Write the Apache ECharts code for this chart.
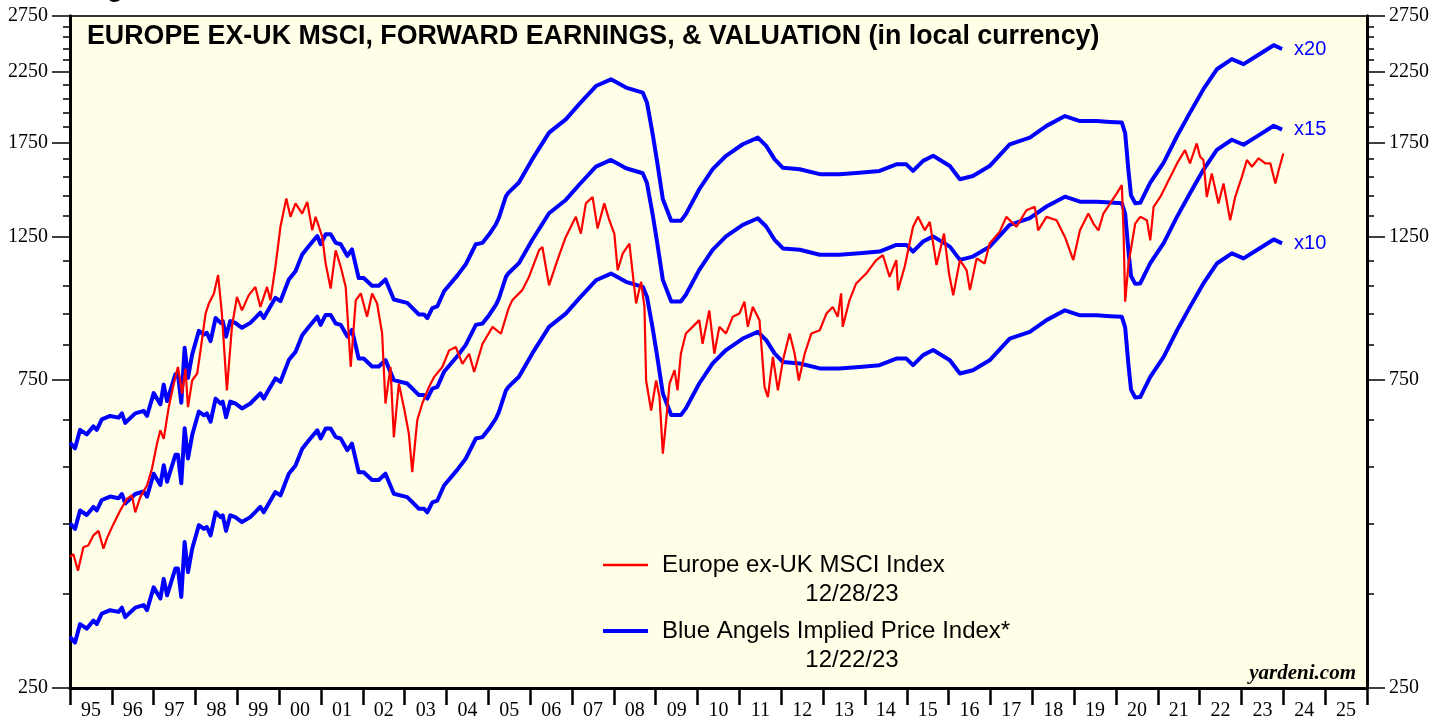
<!DOCTYPE html>
<html>
<head>
<meta charset="utf-8">
<title>Europe ex-UK MSCI, Forward Earnings, & Valuation</title>
<script src="https://cdn.jsdelivr.net/npm/echarts@6.0.0/dist/echarts.min.js"></script>
<style>
  html, body { margin: 0; padding: 0; background: #fff; }
  #chart { width: 1448px; height: 717px; }
</style>
</head>
<body>
<div id="chart"></div>
<script>
// forward earnings per share (value / 10)
const earnDates = [
  1995.00, 1995.12, 1995.24, 1995.40, 1995.56, 1995.64, 1995.76, 1995.96,
  1996.16, 1996.24, 1996.32, 1996.56, 1996.76, 1996.84, 1997.00, 1997.16,
  1997.24, 1997.32, 1997.52, 1997.58, 1997.66, 1997.74, 1997.82, 1997.92,
  1998.08, 1998.20, 1998.27, 1998.36, 1998.48, 1998.60, 1998.65, 1998.73,
  1998.83, 1998.95, 1999.11, 1999.31, 1999.55, 1999.63, 1999.75, 1999.91,
  2000.03, 2000.23, 2000.39, 2000.55, 2000.71, 2000.91, 2000.99, 2001.11,
  2001.23, 2001.35, 2001.47, 2001.63, 2001.74, 2001.90, 2002.02, 2002.22,
  2002.38, 2002.54, 2002.74, 2003.06, 2003.34, 2003.46, 2003.54, 2003.66,
  2003.78, 2003.94, 2004.26, 2004.46, 2004.70, 2004.86, 2005.02, 2005.18,
  2005.25, 2005.42, 2005.48, 2005.73, 2006.05, 2006.45, 2006.85, 2007.17,
  2007.57, 2007.93, 2008.29, 2008.69, 2008.79, 2008.93, 2009.03, 2009.17,
  2009.37, 2009.60, 2009.72, 2010.04, 2010.36, 2010.68, 2011.08, 2011.44,
  2011.64, 2011.84, 2012.04, 2012.44, 2012.92, 2013.39, 2013.87, 2014.35,
  2014.75, 2014.99, 2015.15, 2015.39, 2015.63, 2016.03, 2016.27, 2016.58,
  2016.98, 2017.46, 2017.94, 2018.34, 2018.78, 2019.14, 2019.54, 2019.86,
  2020.14, 2020.22, 2020.30, 2020.36, 2020.46, 2020.58, 2020.82, 2021.14,
  2021.46, 2021.77, 2022.09, 2022.41, 2022.77, 2023.05, 2023.37, 2023.77,
  2023.97
];
const fwdEarnings = [
  30.0, 29.4, 31.4, 30.9, 31.8, 31.4, 32.6, 33.0,
  32.8, 33.3, 32.2, 33.3, 33.6, 33.0, 35.8, 34.4,
  36.9, 34.8, 38.3, 38.3, 34.6, 42.1, 37.8, 41.1,
  44.7, 44.1, 44.4, 43.1, 46.8, 46.0, 46.3, 43.8,
  46.3, 46.0, 45.2, 46.0, 47.7, 46.8, 48.3, 50.3,
  49.7, 53.7, 55.3, 58.7, 60.5, 62.7, 60.9, 63.1,
  63.1, 61.2, 60.9, 58.4, 59.8, 54.0, 54.0, 52.5,
  52.5, 53.7, 50.0, 49.4, 47.4, 47.4, 46.8, 48.5,
  48.8, 51.5, 54.5, 56.7, 60.9, 61.2, 63.1, 65.4,
  66.9, 72.3, 73.2, 75.9, 82.5, 90.7, 95.1, 100.4,
  107.1, 109.7, 106.5, 104.6, 101.0, 90.0, 82.0, 71.5,
  66.2, 66.2, 67.8, 74.1, 79.6, 83.5, 87.0, 89.1,
  86.5, 82.5, 80.0, 79.6, 78.2, 78.2, 78.6, 79.1,
  81.0, 81.0, 79.1, 82.0, 83.5, 80.5, 76.8, 77.7,
  80.5, 87.0, 89.1, 92.9, 96.2, 94.5, 94.5, 94.2,
  94.0, 90.5, 79.0, 72.5, 70.5, 70.6, 75.9, 81.5,
  89.6, 97.4, 105.9, 113.7, 117.9, 115.8, 119.3, 123.9,
  122.2
];
const peMultiples = [20, 15, 10];

// Europe ex-UK MSCI price index
const msciDates = [
  1995.00, 1995.08, 1995.19, 1995.32, 1995.44, 1995.56, 1995.68, 1995.80, 1995.88,
  1996.04, 1996.20, 1996.36, 1996.48, 1996.56, 1996.68, 1996.84, 1996.96,
  1997.08, 1997.16, 1997.24, 1997.36, 1997.48, 1997.58, 1997.68, 1997.76, 1997.82, 1997.92,
  1998.04, 1998.12, 1998.24, 1998.32, 1998.44, 1998.54, 1998.63, 1998.75, 1998.87, 1998.99,
  1999.11, 1999.27, 1999.43, 1999.55, 1999.71, 1999.79, 1999.91,
  2000.03, 2000.17, 2000.27, 2000.39, 2000.55, 2000.67, 2000.79, 2000.87,
  2001.03, 2001.11, 2001.23, 2001.35, 2001.47, 2001.59, 2001.71, 2001.83, 2001.95,
  2002.10, 2002.22, 2002.34, 2002.46, 2002.54, 2002.66, 2002.74, 2002.86, 2002.98,
  2003.10, 2003.18, 2003.30, 2003.42, 2003.58, 2003.70, 2003.90,
  2004.06, 2004.22, 2004.38, 2004.54, 2004.66, 2004.86,
  2005.10, 2005.30, 2005.48, 2005.57, 2005.81, 2005.97,
  2006.21, 2006.29, 2006.45, 2006.65, 2006.85,
  2007.09, 2007.21, 2007.33, 2007.49, 2007.61, 2007.77, 2007.89,
  2008.01, 2008.09, 2008.21, 2008.37, 2008.45, 2008.53, 2008.65, 2008.73, 2008.77, 2008.89,
  2009.01, 2009.09, 2009.17, 2009.25, 2009.33, 2009.45, 2009.52, 2009.60, 2009.72, 2009.88,
  2010.04, 2010.12, 2010.28, 2010.40, 2010.52, 2010.68, 2010.84,
  2011.00, 2011.12, 2011.20, 2011.32, 2011.48, 2011.60, 2011.68, 2011.80, 2011.92,
  2012.04, 2012.20, 2012.32, 2012.42, 2012.56, 2012.72, 2012.92,
  2013.08, 2013.23, 2013.35, 2013.43, 2013.47, 2013.63, 2013.79,
  2014.03, 2014.27, 2014.43, 2014.59, 2014.75, 2014.79, 2014.95,
  2015.15, 2015.27, 2015.43, 2015.55, 2015.71, 2015.89,
  2016.01, 2016.11, 2016.27, 2016.43, 2016.51, 2016.67, 2016.86, 2016.98,
  2017.22, 2017.38, 2017.62, 2017.86,
  2018.06, 2018.14, 2018.34, 2018.58, 2018.78, 2018.98,
  2019.14, 2019.34, 2019.46, 2019.58, 2019.70, 2019.86,
  2020.02, 2020.14, 2020.18, 2020.22, 2020.30, 2020.38, 2020.46, 2020.58, 2020.74, 2020.82, 2020.90,
  2021.06, 2021.22, 2021.46, 2021.65, 2021.77, 2021.93,
  2022.01, 2022.09, 2022.17, 2022.29, 2022.45, 2022.57, 2022.73, 2022.85,
  2023.01, 2023.13, 2023.25, 2023.41, 2023.57, 2023.69, 2023.81, 2023.89, 2024.00
];
const msciIndex = [
  399, 403, 380, 413, 416, 431, 438, 411, 426,
  449, 471, 491, 497, 468, 494, 515, 547,
  598, 627, 608, 681, 741, 786, 715, 781, 681, 749,
  768, 834, 951, 986, 1022, 1091, 951, 723, 907, 1009,
  962, 1015, 1046, 974, 1046, 997, 1124,
  1296, 1434, 1343, 1409, 1359, 1417, 1280, 1343,
  1250, 1137, 1040, 1192, 1124, 1046, 786, 997, 1022,
  940, 1022, 986, 886, 690, 786, 612, 741, 681,
  619, 540, 650, 690, 732, 758, 786,
  834, 844, 795, 824, 772, 854,
  907, 885, 968, 997, 1034, 1084,
  1192, 1206, 1052, 1151, 1250,
  1343, 1265, 1409, 1442, 1288, 1409, 1327,
  1265, 1110, 1178, 1221, 1097, 986, 1065, 974, 749, 673,
  749, 706, 577, 650, 741, 777, 723, 824, 886, 907,
  929, 854, 962, 824, 907, 886, 940,
  951, 992, 907, 974, 929, 732, 706, 815, 723,
  805, 886, 824, 749, 824, 886, 896,
  951, 974, 940, 1022, 907, 997, 1059,
  1097, 1151, 1171, 1084, 1151, 1034, 1124,
  1296, 1343, 1280, 1319, 1131, 1265,
  1097, 1015, 1151, 1110, 1034, 1158, 1137, 1221,
  1273, 1343, 1296, 1375,
  1392, 1280, 1343, 1327, 1250, 1151,
  1280, 1359, 1311, 1280, 1359, 1409,
  1460, 1504, 1280, 992, 1137, 1221, 1311, 1343, 1327, 1235, 1392,
  1442, 1513, 1625, 1704, 1625, 1745,
  1664, 1645, 1442, 1568, 1409, 1513, 1327, 1442,
  1549, 1645, 1606, 1655, 1625, 1625, 1513, 1587, 1684
];

const yearLabels = ['95', '96', '97', '98', '99', '00', '01', '02', '03', '04', '05',
  '06', '07', '08', '09', '10', '11', '12', '13', '14', '15', '16', '17', '18', '19',
  '20', '21', '22', '23', '24', '25'];
const yMajorTicks = [250, 750, 1250, 1750, 2250, 2750];
const yMinorTicks = [250, 350, 450, 550, 650, 750, 850, 950, 1050, 1150, 1250, 1350,
  1450, 1550, 1650, 1750, 1850, 1950, 2050, 2150, 2250, 2350, 2450, 2550, 2650, 2750];

const serif = '"Liberation Serif", "Times New Roman", serif';
const sans = '"Liberation Sans", Arial, sans-serif';

// one log axis per side for the long ticks + labels, one for the short ticks
function yAxisFor(position, major) {
  return {
    type: 'log',
    logBase: 10,
    position: position,
    min: 250,
    max: 2750,
    splitLine: { show: false },
    axisLine: { show: true, lineStyle: { color: '#000', width: 3 } },
    axisTick: {
      show: true,
      length: major ? 18 : 7,
      customValues: major ? yMajorTicks : yMinorTicks,
      lineStyle: { color: '#000', width: 1.5 }
    },
    axisLabel: major
      ? {
          show: true,
          customValues: yMajorTicks,
          margin: 22,
          color: '#000',
          fontFamily: serif,
          fontSize: 20,
          formatter: (v) => String(Math.round(v))
        }
      : { show: false }
  };
}

const impliedSeries = peMultiples.map((pe) => ({
  name: 'x' + pe,
  type: 'line',
  xAxisIndex: 0,
  yAxisIndex: 0,
  showSymbol: false,
  silent: true,
  lineStyle: { color: '#0000ff', width: 4, join: 'round' },
  data: earnDates.map((d, i) => [d, fwdEarnings[i] * pe]),
  endLabel: {
    show: true,
    formatter: 'x' + pe,
    color: '#0000ff',
    fontFamily: sans,
    fontSize: 20,
    distance: 12
  },
  z: 2
}));

const chart = echarts.init(document.getElementById('chart'));
const option = {
  animation: false,
  backgroundColor: '#ffffff',
  grid: {
    left: 70,
    right: 81,
    top: 16,
    bottom: 29,
    outerBoundsMode: 'none',
    show: true,
    backgroundColor: '#fffee6',
    borderColor: '#333',
    borderWidth: 2
  },
  xAxis: [
    {
      type: 'value',
      position: 'bottom',
      min: 1995,
      max: 2026,
      show: false
    },
    {
      type: 'category',
      position: 'bottom',
      data: yearLabels,
      boundaryGap: true,
      axisLine: { show: true, lineStyle: { color: '#000', width: 3 } },
      axisTick: { show: true, length: 17, lineStyle: { color: '#000', width: 2.5 } },
      axisLabel: { interval: 0, margin: 13, color: '#000', fontFamily: serif, fontSize: 20 },
      splitLine: { show: false }
    }
  ],
  yAxis: [
    yAxisFor('left', false),
    yAxisFor('left', true),
    yAxisFor('right', false),
    yAxisFor('right', true)
  ],
  series: [
    ...impliedSeries,
    {
      name: 'Europe ex-UK MSCI Index',
      type: 'line',
      xAxisIndex: 0,
      yAxisIndex: 0,
      showSymbol: false,
      silent: true,
      lineStyle: { color: '#ff0000', width: 2.2 },
      data: msciDates.map((d, i) => [d, msciIndex[i]]),
      z: 3
    }
  ],
  graphic: [
    {
      type: 'text', x: 84, y: 3, silent: true,
      style: { text: 'Figure 6', fill: '#000', font: 'bold 26px ' + sans, textVerticalAlign: 'bottom' }
    },
    {
      type: 'text', x: 87, y: 37, silent: true,
      style: {
        text: 'EUROPE EX-UK MSCI, FORWARD EARNINGS, & VALUATION (in local currency)',
        fill: '#000', font: 'bold 26.8px ' + sans, textVerticalAlign: 'middle'
      }
    },
    // legend
    {
      type: 'line', silent: true,
      shape: { x1: 603, y1: 565, x2: 648, y2: 565 },
      style: { stroke: '#ff0000', lineWidth: 2.5 }
    },
    {
      type: 'text', x: 662, y: 565, silent: true,
      style: { text: 'Europe ex-UK MSCI Index', fill: '#000', font: '24px ' + sans, textVerticalAlign: 'middle' }
    },
    {
      type: 'text', x: 852, y: 594, silent: true,
      style: { text: '12/28/23', fill: '#000', font: '24px ' + sans, textAlign: 'center', textVerticalAlign: 'middle' }
    },
    {
      type: 'line', silent: true,
      shape: { x1: 603, y1: 631, x2: 648, y2: 631 },
      style: { stroke: '#0000ff', lineWidth: 4 }
    },
    {
      type: 'text', x: 662, y: 631, silent: true,
      style: { text: 'Blue Angels Implied Price Index*', fill: '#000', font: '24px ' + sans, textVerticalAlign: 'middle' }
    },
    {
      type: 'text', x: 852, y: 660, silent: true,
      style: { text: '12/22/23', fill: '#000', font: '24px ' + sans, textAlign: 'center', textVerticalAlign: 'middle' }
    },
    {
      type: 'text', x: 1356, y: 674, silent: true,
      style: {
        text: 'yardeni.com', fill: '#000', font: 'italic bold 21px ' + serif,
        textAlign: 'right', textVerticalAlign: 'middle'
      }
    }
  ]
};
chart.setOption(option);
</script>
</body>
</html>
